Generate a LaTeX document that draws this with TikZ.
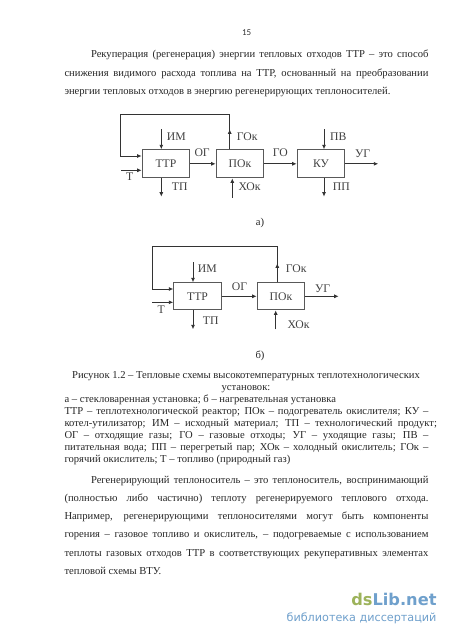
\documentclass[tikz,border=0pt]{standalone}
\usepackage{fontspec}
\setmainfont{Liberation Serif}
\newfontfamily\wmfont{DejaVu Sans}
\newfontfamily\pgfont{Carlito}
\usetikzlibrary{arrows.meta}
\definecolor{wmgreen}{HTML}{9DB35B}
\definecolor{wmblue}{HTML}{6FA0CC}
\newcommand{\jline}[5]{\node[bodytext,anchor=base west] (#1) at (#2,-#3) {\makebox[#4pt][s]{#5}};}
\newcommand{\fline}[4]{\node[bodytext,anchor=base west] (#1) at (#2,-#3) {#4};}
\tikzset{
  x=1pt,y=1pt,
  bodytext/.style={inner sep=0pt,outer sep=0pt,font=\fontsize{10.6}{12}\selectfont,text=black!85},
  captext/.style={inner sep=0pt,outer sep=0pt,font=\fontsize{10.6}{12}\selectfont,text=black!85},
  blockbox/.style={draw=black!65,line width=1pt,fill=white,inner sep=0pt,anchor=north west,font=\fontsize{11.7}{13}\selectfont,text=black!75},
  flow/.style={draw=black!80,line width=0.9pt,-{Latex[length=4.5pt,width=4pt]}},
  flowlabel/.style={inner sep=0pt,anchor=base west,font=\fontsize{11.7}{13}\selectfont,text=black!75},
}
\begin{document}
\begin{tikzpicture}
\useasboundingbox (0,0) rectangle (450,-637);
\fill[white] (0,0) rectangle (450,-637);
\node[inner sep=0pt,anchor=base,font=\pgfont\fontsize{9}{10}\selectfont,text=black!80] (pagenum) at (246.7,-35) {15};
% paragraph 1
\jline{p1a}{91}{57}{337.5}{Рекуперация (регенерация) энергии тепловых отходов ТТР – это способ}
\jline{p1b}{64.5}{76}{364}{снижения видимого расхода топлива на ТТР, основанный на преобразовании}
\fline{p1c}{64.5}{94}{энергии тепловых отходов в энергию регенерирующих теплоносителей.}
% diagram a
\node[blockbox,minimum width=47.5pt,minimum height=28pt] (attr) at (141.7,-149.3) {ТТР};
\node[blockbox,minimum width=47.5pt,minimum height=28pt] (apok) at (215.7,-149.3) {ПОк};
\node[blockbox,minimum width=47.5pt,minimum height=28pt] (aku) at (296.7,-149.3) {КУ};
\coordinate (aloopr) at (229.7,-114.3);
\coordinate (aloopl) at (120.7,-114.3);
\coordinate (aloopd) at (120.7,-156);
\coordinate (aTs) at (121,-170.3);
\coordinate (aIMs) at (161.3,-129.3);
\coordinate (aTPe) at (161.3,-196.7);
\coordinate (aHOs) at (232.3,-197.7);
\coordinate (aPVs) at (324,-129.3);
\coordinate (aPPe) at (324,-196.7);
\coordinate (aUGe) at (378.3,-163.3);
\draw[flow] (apok.north -| aloopr) -- (aloopr) -- (aloopl) -- (aloopd) -- (aloopd -| attr.west);
\draw[flow] (229.7,-134) -- (229.7,-129.3);
\draw[flow] (aTs) -- (aTs -| attr.west);
\draw[flow] (aIMs) -- (aIMs |- attr.north);
\draw[flow] (aIMs |- attr.south) -- (aTPe);
\draw[flow] (aHOs) -- (aHOs |- apok.south);
\draw[flow] (aPVs) -- (aPVs |- aku.north);
\draw[flow] (aPVs |- aku.south) -- (aPPe);
\draw[flow] (attr.east) -- (apok.west);
\draw[flow] (apok.east) -- (aku.west);
\draw[flow] (aku.east) -- (aku.east -| aUGe);
\node[flowlabel] (lim) at (166.7,-140) {ИМ};
\node[flowlabel] (lgok) at (236.7,-140) {ГОк};
\node[flowlabel] (log) at (194.3,-156.7) {ОГ};
\node[flowlabel] (lgo) at (272.7,-156.7) {ГО};
\node[flowlabel] (lpv) at (330,-140) {ПВ};
\node[flowlabel] (lug) at (355,-157.3) {УГ};
\node[flowlabel] (lt) at (126,-180) {Т};
\node[flowlabel] (ltp) at (171.7,-190) {ТП};
\node[flowlabel] (lhok) at (238.3,-190.7) {ХОк};
\node[flowlabel] (lpp) at (332.7,-190) {ПП};
\node[bodytext,anchor=base] (la) at (260,-225) {а)};
% diagram b
\node[blockbox,minimum width=47.5pt,minimum height=27pt] (bttr) at (173.3,-282.3) {ТТР};
\node[blockbox,minimum width=47.5pt,minimum height=27pt] (bpok) at (256.7,-282.3) {ПОк};
\coordinate (bloopr) at (277.3,-246);
\coordinate (bloopl) at (152.3,-246);
\coordinate (bloopd) at (152.3,-289);
\coordinate (bTs) at (152.3,-302.3);
\coordinate (bIMs) at (193,-262);
\coordinate (bTPe) at (193,-329.3);
\coordinate (bHOs) at (275.7,-329.3);
\coordinate (bUGe) at (338.7,-296);
\draw[flow] (bpok.north -| bloopr) -- (bloopr) -- (bloopl) -- (bloopd) -- (bloopd -| bttr.west);
\draw[flow] (277.3,-268) -- (277.3,-263.3);
\draw[flow] (bTs) -- (bTs -| bttr.west);
\draw[flow] (bIMs) -- (bIMs |- bttr.north);
\draw[flow] (bIMs |- bttr.south) -- (bTPe);
\draw[flow] (bHOs) -- (bHOs |- bpok.south);
\draw[flow] (bttr.east) -- (bpok.west);
\draw[flow] (bpok.east) -- (bpok.east -| bUGe);
\node[flowlabel] (blim) at (197.7,-272.7) {ИМ};
\node[flowlabel] (blgok) at (285.7,-272.7) {ГОк};
\node[flowlabel] (blog) at (231.7,-290) {ОГ};
\node[flowlabel] (blug) at (315,-292.3) {УГ};
\node[flowlabel] (blt) at (157.3,-313.3) {Т};
\node[flowlabel] (bltp) at (202.7,-324.3) {ТП};
\node[flowlabel] (blhok) at (287.3,-328) {ХОк};
\node[bodytext,anchor=base] (lb) at (260,-358) {б)};
% caption
\node[captext,anchor=base] (cap1) at (246,-378) {Рисунок 1.2 – Тепловые схемы высокотемпературных теплотехнологических};
\node[captext,anchor=base] (cap2) at (246,-390) {установок:};
\node[captext,anchor=base west] (cap3) at (64.5,-402.5) {а – стекловаренная установка; б – нагревательная установка};
\node[captext,anchor=base west] (cap4) at (64.5,-414.5) {\makebox[364pt][s]{ТТР – теплотехнологической реактор; ПОк – подогреватель окислителя; КУ –}};
\node[captext,anchor=base west] (cap5) at (64.5,-426.5) {\makebox[372.5pt][s]{котел-утилизатор; ИМ – исходный материал; ТП – технологический продукт;}};
\node[captext,anchor=base west] (cap6) at (64.5,-438.5) {\makebox[364pt][s]{ОГ – отходящие газы; ГО – газовые отходы; УГ – уходящие газы; ПВ –}};
\node[captext,anchor=base west] (cap7) at (64.5,-450.5) {\makebox[364pt][s]{питательная вода; ПП – перегретый пар; ХОк – холодный окислитель; ГОк –}};
\node[captext,anchor=base west] (cap8) at (64.5,-462.5) {горячий окислитель; Т – топливо (природный газ)};
% paragraph 2
\jline{p2a}{91}{483.3}{337.5}{Регенерирующий теплоноситель – это теплоноситель, воспринимающий}
\jline{p2b}{64.5}{501.3}{364}{(полностью либо частично) теплоту регенерируемого теплового отхода.}
\jline{p2c}{64.5}{519.5}{364}{Например, регенерирующими теплоносителями могут быть компоненты}
\jline{p2d}{64.5}{537.7}{364}{горения – газовое топливо и окислитель, – подогреваемые с использованием}
\jline{p2e}{64.5}{556}{364}{теплоты газовых отходов ТТР в соответствующих рекуперативных элементах}
\fline{p2f}{64.5}{574}{тепловой схемы ВТУ.}
% watermark
\node[inner sep=0pt,anchor=base east,font=\wmfont\bfseries\fontsize{16.2}{18}\selectfont] (wm1) at (436.7,-605.5) {\textcolor{wmgreen}{ds}\textcolor{wmblue}{Lib.net}};
\node[inner sep=0pt,anchor=base east,font=\wmfont\fontsize{11.2}{13}\selectfont,text=wmblue] (wm2) at (436.7,-621) {библиотека диссертаций};
\end{tikzpicture}
\end{document}
